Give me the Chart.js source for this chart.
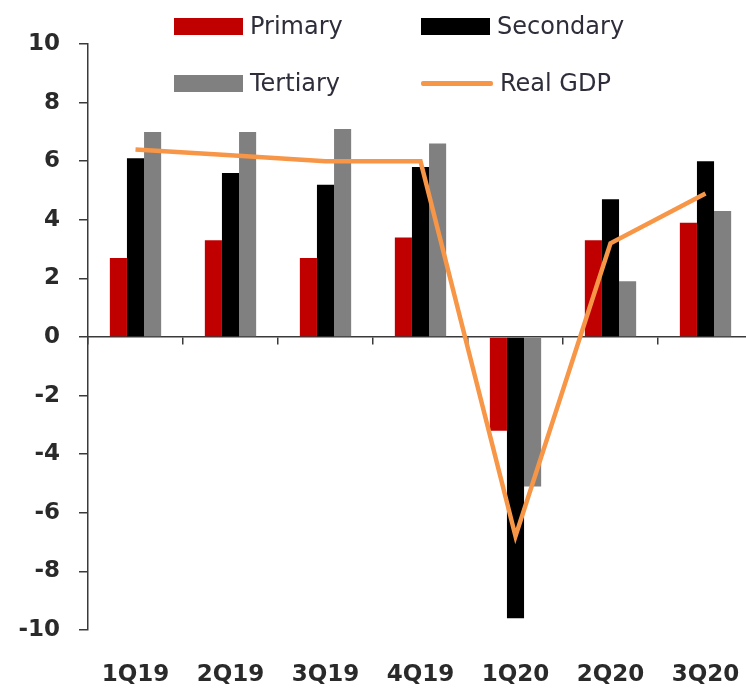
<!DOCTYPE html>
<html><head><meta charset="utf-8">
<script src="https://cdn.jsdelivr.net/npm/chart.js@4.4.1/dist/chart.umd.min.js"></script>
<style>
html,body{margin:0;padding:0;overflow:hidden;background:#fff;}
#wrap{position:relative;width:756px;height:690px;}
#c{display:block;}
.li{position:absolute;display:flex;align-items:center;font-family:"DejaVu Sans",sans-serif;font-size:24px;color:#2e2e3a;white-space:nowrap;transform:translateY(-50%);}
.sw{display:inline-block;margin-right:7px;}
</style></head><body>
<div id="wrap"><canvas id="c" width="756" height="690"></canvas><div id="legend"></div></div>
<script>
const categories = ["1Q19","2Q19","3Q19","4Q19","1Q20","2Q20","3Q20"];
const primary   = [2.7, 3.3, 2.7, 3.4, -3.2, 3.3, 3.9];
const secondary = [6.1, 5.6, 5.2, 5.8, -9.6, 4.7, 6.0];
const tertiary  = [7.0, 7.0, 7.1, 6.6, -5.1, 1.9, 4.3];
const realGDP   = [6.4, 6.2, 6.0, 6.0, -6.8, 3.2, 4.9];
const yTicks    = [-10, -8, -6, -4, -2, 0, 2, 4, 6, 8, 10];

const axisColor = '#3a3a3a';

const chart = new Chart(document.getElementById('c'), {
  type: 'bar',
  data: {
    labels: categories,
    datasets: [
      {label: 'Primary', data: primary, backgroundColor: '#C00000', order: 1},
      {label: 'Secondary', data: secondary, backgroundColor: '#000000', order: 1},
      {label: 'Tertiary', data: tertiary, backgroundColor: '#808080', order: 1},
      {label: 'Real GDP', data: realGDP, type: 'line', borderColor: '#F79646', borderWidth: 4.5,
       pointRadius: 0, tension: 0, fill: false, order: 0}
    ]
  },
  options: {
    responsive: false,
    animation: false,
    devicePixelRatio: 1,
    categoryPercentage: 0.54,
    barPercentage: 1.0,
    layout: {padding: {top: 44, left: 0, right: 3, bottom: 0}},
    plugins: {legend: {display: false}, tooltip: {enabled: false}},
    scales: {
      x: {
        type: 'category',
        offset: true,
        grid: {display: false},
        border: {display: false},
        ticks: {padding: 23, color: '#2a2a2a', font: {family: 'DejaVu Sans', size: 23, weight: 'bold'}, maxRotation: 0},
        afterFit(s) { s.height = 60; s.paddingLeft = 0; s.paddingRight = 0; }
      },
      x2: {
        type: 'category',
        axis: 'x',
        position: {y: 0},
        offset: true,
        grid: {offset: true, drawOnChartArea: false, drawTicks: true, tickLength: 7, color: axisColor, lineWidth: 1.5},
        border: {display: true, color: axisColor, width: 1.5},
        ticks: {display: false},
        afterFit(s) { s.height = 0; s.paddingLeft = 0; s.paddingRight = 0; }
      },
      y: {
        min: -10, max: 10,
        afterBuildTicks(s) { s.ticks = yTicks.map(v => ({value: v})); },
        grid: {drawOnChartArea: false, drawTicks: true, tickLength: 9, color: axisColor, lineWidth: 1.5},
        border: {display: true, color: axisColor, width: 1.5},
        ticks: {padding: 19, color: '#2a2a2a', font: {family: 'DejaVu Sans', size: 23, weight: 'bold'}},
        afterFit(s) { s.width = 88; }
      }
    }
  }
});

// HTML legend built from the chart's datasets
const legendPos = [{x: 174, y: 26}, {x: 421, y: 26}, {x: 174, y: 83}, {x: 421, y: 83}];
const leg = document.getElementById('legend');
chart.data.datasets.forEach((ds, i) => {
  const item = document.createElement('div');
  item.className = 'li';
  item.style.left = legendPos[i].x + 'px';
  item.style.top = legendPos[i].y + 'px';
  const sw = document.createElement('span');
  sw.className = 'sw';
  if (ds.type === 'line') {
    sw.style.width = '72px'; sw.style.height = '5px'; sw.style.background = ds.borderColor;
    sw.style.borderRadius = '2px';
  } else {
    sw.style.width = '69px'; sw.style.height = '17px'; sw.style.background = ds.backgroundColor;
  }
  const tx = document.createElement('span');
  tx.textContent = ds.label;
  item.appendChild(sw); item.appendChild(tx);
  leg.appendChild(item);
});
</script>
</body></html>
